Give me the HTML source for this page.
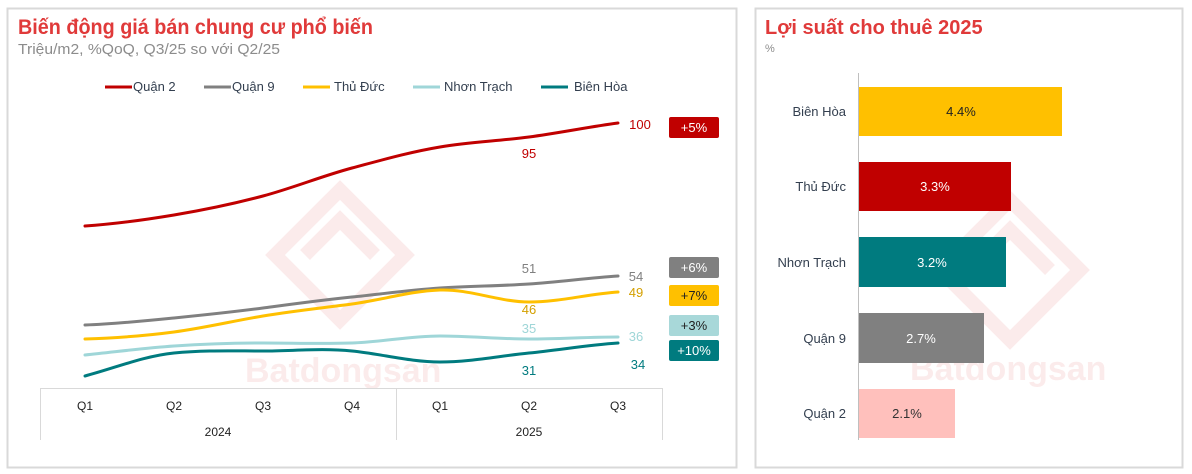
<!DOCTYPE html>
<html><head><meta charset="utf-8"><style>
html,body{margin:0;padding:0;background:#fff;}
svg{display:block;font-family:"Liberation Sans",sans-serif;}
</style></head><body>
<svg width="1192" height="474" viewBox="0 0 1192 474">
<rect x="7.5" y="8.5" width="729" height="459" fill="#fff" stroke="#d9d9d9" stroke-width="2"/>
<rect x="755.5" y="8.5" width="427" height="459" fill="#fff" stroke="#d9d9d9" stroke-width="2"/>
<!-- watermarks -->
<g opacity="0.09" fill="none" stroke="#d62b2b" stroke-width="14">
<path d="M275 255 L340 190 L405 255 L340 320 Z"/>
<path d="M305 255 L340 220 L375 255"/>
<path d="M940 270 L1010 200 L1080 270 L1010 340 Z"/>
<path d="M970 270 L1010 230 L1050 270"/>
</g>
<text x="245" y="382" font-size="34" font-weight="bold" fill="#d62b2b" opacity="0.09">Batdongsan</text>
<text x="910" y="380" font-size="34" font-weight="bold" fill="#d62b2b" opacity="0.09">Batdongsan</text>
<!-- left titles -->
<text x="18" y="34" font-size="21" font-weight="bold" fill="#e03a3a" textLength="355" lengthAdjust="spacingAndGlyphs">Biến động giá bán chung cư phổ biến</text>
<text x="18" y="54" font-size="15" fill="#8c8c8c" textLength="262" lengthAdjust="spacingAndGlyphs">Triệu/m2, %QoQ, Q3/25 so với Q2/25</text>
<!-- legend -->
<g font-size="13" fill="#333f4f">
<line x1="105" y1="87" x2="132" y2="87" stroke="#c00000" stroke-width="3"/><text x="133" y="91">Quận 2</text>
<line x1="204" y1="87" x2="231" y2="87" stroke="#808080" stroke-width="3"/><text x="232" y="91">Quận 9</text>
<line x1="303" y1="87" x2="330" y2="87" stroke="#ffc000" stroke-width="3"/><text x="334" y="91">Thủ Đức</text>
<line x1="413" y1="87" x2="440" y2="87" stroke="#9fd6d8" stroke-width="3"/><text x="444" y="91">Nhơn Trạch</text>
<line x1="541" y1="87" x2="568" y2="87" stroke="#007b7f" stroke-width="3"/><text x="574" y="91">Biên Hòa</text>
</g>
<!-- lines -->
<g fill="none" stroke-width="3" stroke-linecap="round">
<path stroke="#c00000" d="M85 226 C115 224 144 220 174 215 C204 210 233 204 263 196 C293 188 322 176 352 168 C382 160 410 152 440 147 C470 142 499 141 529 137 C559 133 588 127 618 123"/>
<path stroke="#808080" d="M85 325 C115 324 144 321 174 318 C204 315 233 312 263 308 C293 304 322 300 352 297 C382 294 410 290 440 288 C470 286 499 286 529 284 C559 282 588 278 618 276"/>
<path stroke="#ffc000" d="M85 339 C115 338 144 336 174 332 C204 328 233 321 263 316 C293 311 322 308 352 304 C382 300 410 291 440 290 C470 289 499 302 529 302 C559 302 588 294 618 292"/>
<path stroke="#9fd6d8" d="M85 355 C115 352 144 348 174 346 C204 344 233 343 263 343 C293 343 322 344 352 343 C382 342 410 336 440 336 C470 336 499 339 529 339 C559 339 588 337 618 337"/>
<path stroke="#007b7f" d="M85 376 C115 368 144 356 174 353 C204 350 233 351 263 351 C293 351 322 348 352 351 C382 354 410 362 440 362 C470 362 499 356 529 353 C559 350 588 345 618 343"/>
</g>
<!-- data labels -->
<g font-size="13" text-anchor="middle">
<text x="640" y="129" fill="#c00000">100</text>
<text x="529" y="158" fill="#c00000">95</text>
<text x="529" y="273" fill="#808080">51</text>
<text x="636" y="281" fill="#808080">54</text>
<text x="636" y="297" fill="#d4a000">49</text>
<text x="529" y="314" fill="#d4a000">46</text>
<text x="529" y="333" fill="#9fd6d8">35</text>
<text x="636" y="341" fill="#9fd6d8">36</text>
<text x="529" y="375" fill="#007b7f">31</text>
<text x="638" y="369" fill="#007b7f">34</text>
</g>
<!-- badges -->
<g font-size="13" text-anchor="middle">
<rect x="669" y="117" width="50" height="21" rx="2" fill="#c00000"/><text x="694" y="132" fill="#fff">+5%</text>
<rect x="669" y="257" width="50" height="21" rx="2" fill="#808080"/><text x="694" y="272" fill="#fff">+6%</text>
<rect x="669" y="285" width="50" height="21" rx="2" fill="#ffc000"/><text x="694" y="300" fill="#222">+7%</text>
<rect x="669" y="315" width="50" height="21" rx="2" fill="#a8d8d9"/><text x="694" y="330" fill="#222">+3%</text>
<rect x="669" y="340" width="50" height="21" rx="2" fill="#007b7f"/><text x="694" y="355" fill="#fff">+10%</text>
</g>
<!-- axis -->
<g stroke="#d9d9d9" stroke-width="1" fill="none">
<path d="M40.5 440 V388.5 H662.5 V440"/>
<line x1="396.5" y1="388" x2="396.5" y2="440"/>
</g>
<g font-size="12" fill="#222" text-anchor="middle">
<text x="85" y="410">Q1</text><text x="174" y="410">Q2</text><text x="263" y="410">Q3</text><text x="352" y="410">Q4</text>
<text x="440" y="410">Q1</text><text x="529" y="410">Q2</text><text x="618" y="410">Q3</text>
<text x="218" y="436">2024</text><text x="529" y="436">2025</text>
</g>
<!-- right panel -->
<text x="765" y="34" font-size="20" font-weight="bold" fill="#e03a3a">Lợi suất cho thuê 2025</text>
<text x="765" y="52" font-size="11" fill="#8c8c8c">%</text>
<line x1="858.5" y1="73" x2="858.5" y2="440" stroke="#bfbfbf" stroke-width="1"/>
<rect x="859" y="87" width="203" height="49" fill="#ffc000"/>
<rect x="859" y="162" width="152" height="49" fill="#c00000"/>
<rect x="859" y="237" width="147" height="50" fill="#007b7f"/>
<rect x="859" y="313" width="125" height="50" fill="#808080"/>
<rect x="859" y="389" width="96" height="49" fill="#ffc0bc"/>
<g font-size="13" text-anchor="middle">
<text x="961" y="116" fill="#222">4.4%</text>
<text x="935" y="191" fill="#fff">3.3%</text>
<text x="932" y="267" fill="#fff">3.2%</text>
<text x="921" y="343" fill="#fff">2.7%</text>
<text x="907" y="418" fill="#333">2.1%</text>
</g>
<g font-size="13" fill="#333f4f" text-anchor="end">
<text x="846" y="116">Biên Hòa</text>
<text x="846" y="191">Thủ Đức</text>
<text x="846" y="267">Nhơn Trạch</text>
<text x="846" y="343">Quận 9</text>
<text x="846" y="418">Quận 2</text>
</g>
</svg>
</body></html>
